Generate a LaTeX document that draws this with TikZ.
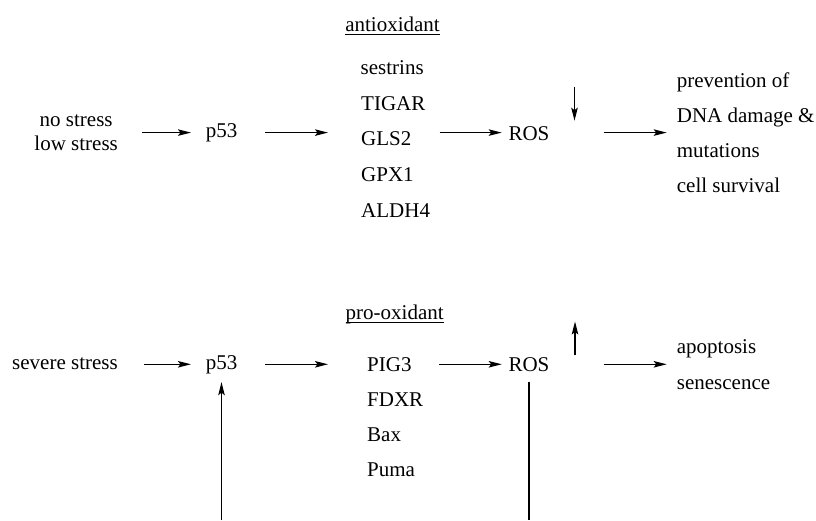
\documentclass[tikz,border=0pt]{standalone}
\usepackage{fontspec}
\setmainfont{Liberation Serif}
\usetikzlibrary{arrows.meta,positioning}

% underline kept at a fixed depth below the baseline
\newlength{\hdrwd}
\newcommand{\hdrline}[1]{\settowidth{\hdrwd}{#1}\rlap{\rule[-3.8pt]{\hdrwd}{0.9pt}}#1}

\begin{document}
\begin{tikzpicture}[x=1pt,y=-1pt]
  \tikzset{
    txt/.style={inner sep=0pt, font=\fontsize{21}{24}\selectfont},
    item/.style={txt, anchor=base west},
    arr/.style={-{Stealth[length=13pt,width=6.5pt,inset=2.5pt]}, line width=1.3pt},
    link/.style={line width=1.3pt}
  }
  \useasboundingbox (0,0) rectangle (816,520);

  % - Antioxidant branch ---
  \node[txt, align=center] (calm) at (76.2,132.8) {no stress\\low stress};
  \node[txt, anchor=base] (p53a) at (221.5,137.3) {p53};

  \node[txt, anchor=base] (antihdr) at (392.5,31) {\hdrline{antioxidant}};
  \node[item] (anti1) at (360.5,74) {sestrins};
  \node[item] (anti2) at (361,110) {TIGAR};
  \node[item] (anti3) at (361,145.8) {GLS2};
  \node[item] (anti4) at (361,181.7) {GPX1};
  \node[item] (anti5) at (361,217.6) {ALDH4};

  \node[item] (ros1) at (508.3,140) {ROS};

  \node[item] (good1) at (676.7,87.3) {prevention of};
  \node[item] (good2) at (676.7,122.5) {DNA damage \&};
  \node[item] (good3) at (676.7,157.7) {mutations};
  \node[item] (good4) at (676.7,192.9) {cell survival};

  \draw[arr, shorten <=24pt, shorten >=14.6pt] (calm.east |- p53a) -- (p53a.west);
  \draw[arr, shorten <=27.6pt, shorten >=33pt] (p53a.east) -- (p53a -| anti3.west);
  \draw[arr, shorten <=28pt, shorten >=6.6pt] (p53a -| anti3.east) -- (p53a -| ros1.west);
  \draw[arr, shorten <=54pt, shorten >=10pt] (p53a -| ros1.east) -- (p53a -| good1.west);

  % ROS goes down
  \coordinate (rosdown) at (574.5,86.7);
  \draw[arr] (rosdown) -- ++(0,34);

  % - Pro-oxidant branch ---
  \node[txt, anchor=base] (harsh) at (65,369) {severe stress};
  \node[txt, anchor=base] (p53b) at (221.5,369) {p53};

  \node[txt, anchor=base] (prohdr) at (394.7,319.3) {\hdrline{pro-oxidant}};
  \node[item] (pro1) at (367,371.7) {PIG3};
  \node[item] (pro2) at (367,406.8) {FDXR};
  \node[item] (pro3) at (367,441.8) {Bax};
  \node[item] (pro4) at (367,476.8) {Puma};

  \node[item] (ros2) at (508.3,371.7) {ROS};

  \node[item] (bad1) at (676.7,353.3) {apoptosis};
  \node[item] (bad2) at (676.7,389.3) {senescence};

  \draw[arr, shorten <=26pt, shorten >=14.6pt] (harsh.east |- p53b) -- (p53b.west);
  \draw[arr, shorten <=27.6pt, shorten >=39pt] (p53b.east) -- (p53b -| pro1.west);
  \draw[arr, shorten <=27.7pt, shorten >=6.6pt] (p53b -| pro1.east) -- (p53b -| ros2.west);
  \draw[arr, shorten <=54pt, shorten >=10pt] (p53b -| ros2.east) -- (p53b -| bad1.west);

  % ROS goes up
  \coordinate (rosup) at (575,355);
  \draw[arr] (rosup) -- ++(0,-33.5);

  % - Feedback loop (runs off the bottom edge) ---
  \coordinate (loopfoot) at (0,520);
  \draw[link, shorten <=9.5pt] (ros2.south) -- (ros2.south |- loopfoot);
  \draw[arr, shorten >=8.5pt] (p53b.south |- loopfoot) -- (p53b.south);

\end{tikzpicture}
\end{document}
